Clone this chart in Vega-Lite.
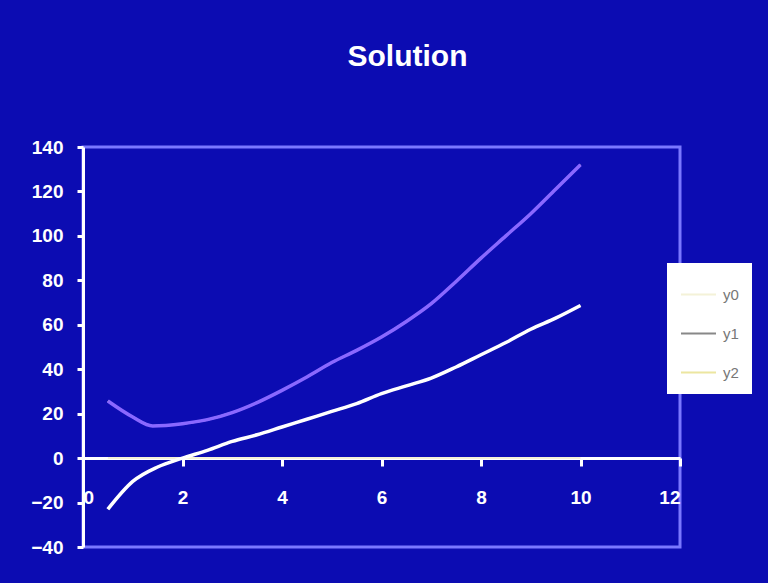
{
  "$schema": "https://vega.github.io/schema/vega-lite/v6.json",
  "width": 597,
  "height": 400,
  "autosize": {"type": "none"},
  "padding": {"left": 83, "top": 147, "right": 88, "bottom": 36},
  "background": "#0c0cb2",
  "title": {
    "text": "Solution",
    "color": "white",
    "font": "Liberation Sans",
    "fontSize": 30,
    "fontWeight": "bold",
    "anchor": "middle",
    "dx": 26,
    "baseline": "alphabetic",
    "offset": 42
  },
  "config": {
    "view": {"stroke": "#7a78ff", "strokeWidth": 3},
    "axis": {
      "domainColor": "white",
      "domainWidth": 3,
      "tickColor": "white",
      "tickWidth": 3,
      "labelColor": "white",
      "labelFont": "Liberation Sans",
      "labelFontWeight": "bold",
      "labelFontSize": 19,
      "grid": false,
      "title": null
    }
  },
  "data": {
    "values": [
      {"x": 0.5, "series": "y0", "y": 0}, {"x": 1, "series": "y0", "y": 0}, {"x": 2, "series": "y0", "y": 0}, {"x": 3, "series": "y0", "y": 0}, {"x": 4, "series": "y0", "y": 0}, {"x": 5, "series": "y0", "y": 0}, {"x": 6, "series": "y0", "y": 0}, {"x": 7, "series": "y0", "y": 0}, {"x": 8, "series": "y0", "y": 0}, {"x": 9, "series": "y0", "y": 0}, {"x": 10, "series": "y0", "y": 0},
      {"x": 0.5, "series": "y1", "y": -23}, {"x": 1, "series": "y1", "y": -10.5}, {"x": 1.5, "series": "y1", "y": -4}, {"x": 2, "series": "y1", "y": 0}, {"x": 2.5, "series": "y1", "y": 3.5}, {"x": 3, "series": "y1", "y": 7.5}, {"x": 3.5, "series": "y1", "y": 10.5}, {"x": 4, "series": "y1", "y": 14}, {"x": 4.5, "series": "y1", "y": 17.5}, {"x": 5, "series": "y1", "y": 21}, {"x": 5.5, "series": "y1", "y": 24.5}, {"x": 6, "series": "y1", "y": 29}, {"x": 6.5, "series": "y1", "y": 32.5}, {"x": 7, "series": "y1", "y": 36}, {"x": 7.5, "series": "y1", "y": 41}, {"x": 8, "series": "y1", "y": 46.5}, {"x": 8.5, "series": "y1", "y": 52}, {"x": 9, "series": "y1", "y": 58}, {"x": 9.5, "series": "y1", "y": 63}, {"x": 10, "series": "y1", "y": 68.7},
      {"x": 0.5, "series": "y2", "y": 25.7}, {"x": 1, "series": "y2", "y": 18.5}, {"x": 1.4, "series": "y2", "y": 14.5}, {"x": 2, "series": "y2", "y": 15.5}, {"x": 2.5, "series": "y2", "y": 17.3}, {"x": 3, "series": "y2", "y": 20.5}, {"x": 3.5, "series": "y2", "y": 25}, {"x": 4, "series": "y2", "y": 30.5}, {"x": 4.5, "series": "y2", "y": 36.5}, {"x": 5, "series": "y2", "y": 43}, {"x": 5.5, "series": "y2", "y": 48.5}, {"x": 6, "series": "y2", "y": 54.5}, {"x": 6.5, "series": "y2", "y": 61.5}, {"x": 7, "series": "y2", "y": 69.5}, {"x": 7.5, "series": "y2", "y": 79.5}, {"x": 8, "series": "y2", "y": 90}, {"x": 8.5, "series": "y2", "y": 100}, {"x": 9, "series": "y2", "y": 110}, {"x": 9.5, "series": "y2", "y": 121}, {"x": 10, "series": "y2", "y": 132}
    ]
  },
  "encoding": {
    "x": {
      "field": "x",
      "type": "quantitative",
      "scale": {"domain": [0, 12], "nice": false, "zero": false},
      "axis": {
        "values": [0, 2, 4, 6, 8, 10, 12],
        "offset": -89,
        "tickSize": 8,
        "labelPadding": 22,
        "labelAngle": 0
      }
    },
    "y": {
      "field": "y",
      "type": "quantitative",
      "scale": {"domain": [-40, 140], "nice": false},
      "axis": {
        "values": [-40, -20, 0, 20, 40, 60, 80, 100, 120, 140],
        "tickSize": 6,
        "labelPadding": 14
      }
    }
  },
  "layer": [
    {
      "mark": {"type": "line", "strokeWidth": 2, "interpolate": "monotone"},
      "encoding": {
        "color": {
          "field": "series",
          "type": "nominal",
          "scale": {"domain": ["y0", "y1", "y2"], "range": ["#f4f2d8", "#888888", "#ece6a0"]},
          "legend": {
            "title": null,
            "orient": "none",
            "legendX": 584,
            "legendY": 116,
            "fillColor": "white",
            "padding": 13,
            "symbolType": "stroke",
            "symbolSize": 1225,
            "symbolStrokeWidth": 2,
            "rowPadding": 12,
            "labelColor": "#777777",
            "labelFont": "Liberation Sans",
            "labelFontSize": 15,
            "labelOffset": 6
          }
        }
      }
    },
    {
      "transform": [{"filter": "datum.series === 'y1'"}],
      "mark": {"type": "line", "strokeWidth": 3.5, "interpolate": "monotone", "color": "#ffffff"}
    },
    {
      "transform": [{"filter": "datum.series === 'y2'"}],
      "mark": {"type": "line", "strokeWidth": 3.5, "interpolate": "monotone", "color": "#8a68ff"}
    }
  ]
}
